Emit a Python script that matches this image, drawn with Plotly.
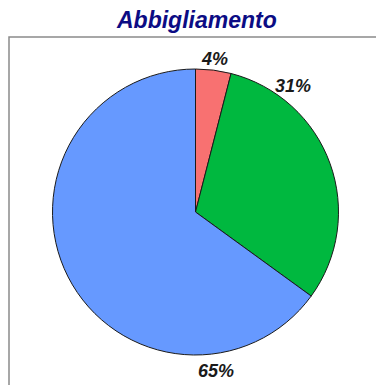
import plotly.graph_objects as go

# Clothing spending split
categories = ["Rosso", "Verde", "Blu"]
values = [4, 31, 65]
colors = ["#f87171", "#00b83f", "#6699ff"]
chart_title = "Abbigliamento"

W, H = 376, 385
cx, cy, r = 195.5, 212, 143  # pie centre / radius in px (from top-left)

fig = go.Figure()
fig.add_trace(go.Pie(
    labels=categories,
    values=values,
    sort=False,
    direction="clockwise",
    rotation=0,
    textinfo="none",
    hoverinfo="label+percent",
    marker=dict(colors=colors, line=dict(color="#1a1a1a", width=1)),
    domain=dict(x=[(cx - r) / W, (cx + r) / W],
                y=[(H - cy - r) / H, (H - cy + r) / H]),
    showlegend=False,
))

# percentage labels, placed around the pie
label_pos = [(214, 59), (293, 86), (216, 371)]
total = sum(values)
for v, (lx, ly) in zip(values, label_pos):
    fig.add_annotation(
        x=lx / W, y=1 - ly / H, xref="paper", yref="paper",
        xanchor="center", yanchor="middle",
        text=f"<b><i>{round(100 * v / total)}%</i></b>",
        showarrow=False,
        font=dict(family="Liberation Sans, Arial", size=18, color="#1a1a1a"),
    )

fig.add_annotation(
    x=196 / W, y=1 - 20 / H, xref="paper", yref="paper",
    xanchor="center", yanchor="middle",
    text=f"<b><i>{chart_title}</i></b>",
    showarrow=False,
    font=dict(family="Liberation Sans, Arial", size=23, color="#0c0c84"),
)

# plot-area frame
fig.add_shape(type="rect", xref="paper", yref="paper",
              x0=9 / W, x1=1.05, y0=-0.05, y1=1 - 37 / H,
              line=dict(color="#8a8a8a", width=1.5), fillcolor="rgba(0,0,0,0)")

fig.update_layout(
    width=W, height=H,
    margin=dict(l=0, r=0, t=0, b=0),
    paper_bgcolor="white", plot_bgcolor="white",
)

fig.write_html("out.html")
